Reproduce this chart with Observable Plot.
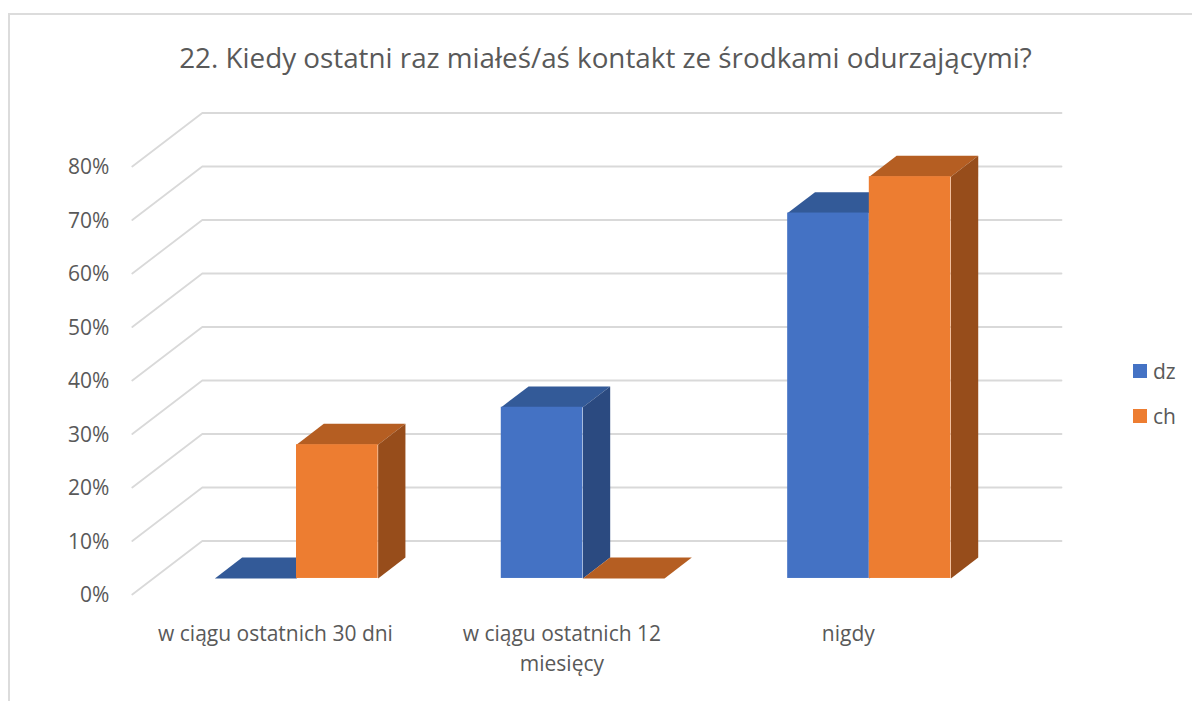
<!DOCTYPE html>
<html lang="pl">
<head>
<meta charset="utf-8">
<script src="https://cdn.jsdelivr.net/npm/d3@7"></script>
<script src="https://cdn.jsdelivr.net/npm/@observablehq/plot@0.6"></script>
<style>
html,body{margin:0;padding:0;background:#fff;width:1192px;height:701px;overflow:hidden}
body{position:relative;font-family:"Open Sans",sans-serif;color:#595959}
#frame{position:absolute;left:8px;top:13px;right:-5px;bottom:-5px;border:2px solid #DCDCDC;box-sizing:border-box}
#title{position:absolute;left:0;width:1211px;top:39px;text-align:center;font-size:27.8px;line-height:36px;white-space:nowrap}
#chart{position:absolute;left:0;top:0}
.lg{position:absolute;left:1133px;height:14px;font-size:21px;line-height:14px;white-space:nowrap}
.lg i{display:inline-block;width:14px;height:14px;margin-right:6px;vertical-align:top}
</style>
</head>
<body>
<div id="frame"></div>
<div id="chart"></div>
<div id="title">22. Kiedy ostatni raz miałeś/aś kontakt ze środkami odurzającymi?</div>
<div class="lg" style="top:364px"><i style="background:#4472C4"></i>dz</div>
<div class="lg" style="top:409px"><i style="background:#ED7D31"></i>ch</div>
<script>
const categories = ["w ciągu ostatnich 30 dni", "w ciągu ostatnich 12\nmiesięcy", "nigdy"];
const dz = [0, 32, 68.3];
const ch = [25, 0, 75.1];
const ticks = [0, 10, 20, 30, 40, 50, 60, 70, 80];

const seriesNames = ["dz", "ch"];
const frontColors = ["#4472C4", "#ED7D31"];
const topColors = ["#335A98", "#B55E22"];
const sideColors = ["#2B4A80", "#974D1B"];

// oblique projection of the 3D chart box, in data units
const zShiftX = 0.2444, zShiftY = 10;        // what one full floor depth adds to x and y
const barW = 0.285, zFront = 0.3, zBack = 0.69;
const X = (c, z) => c + z * zShiftX;
const Y = (v, z) => v + z * zShiftY;

const bars = [];
seriesNames.forEach((s, si) => {
  categories.forEach((cat, i) => {
    const v = (si === 0 ? dz : ch)[i];
    const x0 = i + (si - 1) * barW, x1 = x0 + barW;
    bars.push({s, si, i, v, x0, x1});
  });
});

const poly = (id, fill, pts) => pts.map(([x, y]) => ({id, fill, x, y}));
const faces = bars.flatMap(b => [
  ...poly(`t${b.s}${b.i}`, topColors[b.si], [
    [X(b.x0, zFront), Y(b.v, zFront)], [X(b.x1, zFront), Y(b.v, zFront)],
    [X(b.x1, zBack), Y(b.v, zBack)], [X(b.x0, zBack), Y(b.v, zBack)]]),
  ...(b.v > 0 ? poly(`s${b.s}${b.i}`, sideColors[b.si], [
    [X(b.x1, zFront), Y(0, zFront)], [X(b.x1, zBack), Y(0, zBack)],
    [X(b.x1, zBack), Y(b.v, zBack)], [X(b.x1, zFront), Y(b.v, zFront)]]) : [])
]);

const xLeft = -0.5, xRight = 2.5;
const grid = ticks.flatMap(t => [
  {t, x: X(xLeft, 0), y: Y(t, 0)},
  {t, x: X(xLeft, 1), y: Y(t, 1)},
  {t, x: X(xRight, 1), y: Y(t, 1)}
]);

const faceGroups = d3.groups(faces, d => d.id);

const plot = Plot.plot({
  width: 1192, height: 701,
  marginLeft: 131.8, marginRight: 131, marginTop: 112.5, marginBottom: 107,
  style: {fontFamily: '"Open Sans", sans-serif', background: "transparent"},
  x: {domain: [xLeft, xRight + zShiftX], axis: null},
  y: {domain: [0, 90], axis: null},
  marks: [
    Plot.line(grid, {x: "x", y: "y", z: "t", stroke: "#D9D9D9", strokeWidth: 1.8}),
    Plot.axisY({ticks, label: null, tickFormat: d => d + "%", tickSize: 0, tickPadding: 23, fontSize: 21, dy: 1, color: "#595959"}),
    ...faceGroups.map(([id, pts]) => Plot.line(pts, {x: "x", y: "y", fill: pts[0].fill, stroke: "none"})),
    ...bars.filter(b => b.v > 0).map(b => Plot.rect([b], {
      x1: d => X(d.x0, zFront), x2: d => X(d.x1, zFront),
      y1: d => Y(0, zFront), y2: d => Y(d.v, zFront),
      fill: frontColors[b.si]
    })),
    Plot.text(categories, {
      x: (d, i) => i, y: () => 0, text: d => d,
      dy: 25, lineAnchor: "top", lineHeight: 1.43, fontSize: 21, fill: "#595959"
    })
  ]
});
document.getElementById("chart").append(plot);
</script>
</body>
</html>
